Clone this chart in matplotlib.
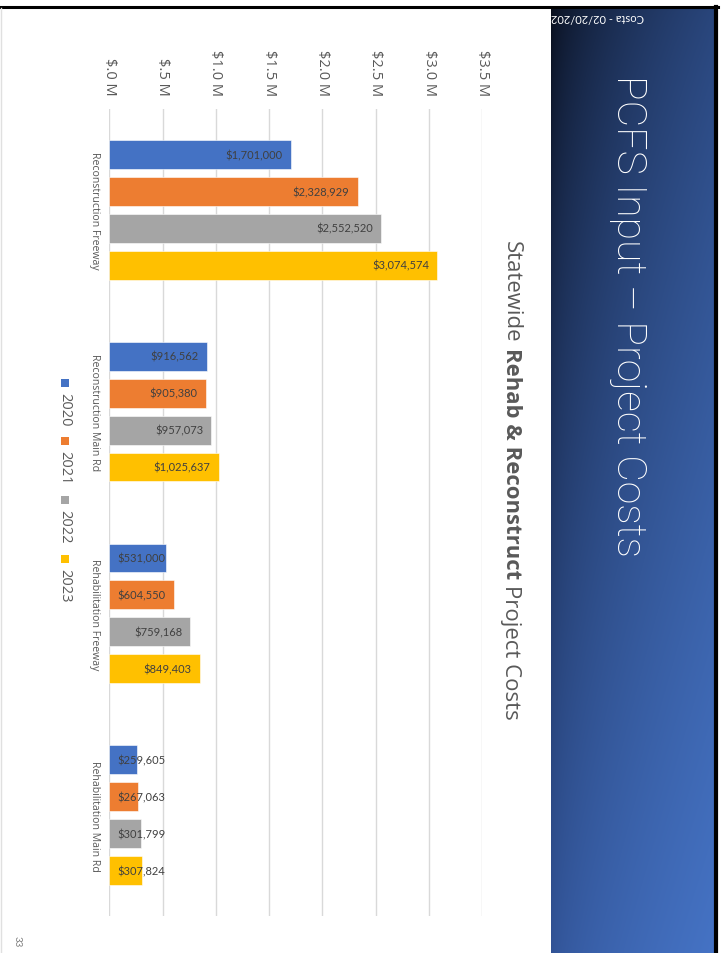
import numpy as np
import matplotlib.pyplot as plt
from matplotlib.patches import Rectangle
from matplotlib.lines import Line2D

years = ['2020', '2021', '2022', '2023']
categories = ['Reconstruction Freeway', 'Reconstruction Main Rd',
              'Rehabilitation Freeway', 'Rehabilitation Main Rd']
costs_2020 = [1701000, 916562, 531000, 259605]
costs_2021 = [2328929, 905380, 604550, 267063]
costs_2022 = [2552520, 957073, 759168, 301799]
costs_2023 = [3074574, 1025637, 849403, 307824]
tick_values = [0, 500000, 1000000, 1500000, 2000000, 2500000, 3000000, 3500000]
tick_labels = ['$.0 M', '$.5 M', '$1.0 M', '$1.5 M', '$2.0 M', '$2.5 M', '$3.0 M', '$3.5 M']
colors = ['#4472C4', '#ED7D31', '#A5A5A5', '#FFC000']

W, H = 724, 954
fig = plt.figure(figsize=(W / 100, H / 100), dpi=100)


def fx(x):
    return x / W


def fy(y):
    return 1 - y / H


# blue title panel with gradient (slide is rotated)
u = np.linspace(0, 1, 200)[None, :]
v = np.linspace(0, 1, 300)[:, None]
TL = np.array([0.03, 0.05, 0.10])
TR = np.array([0.16, 0.27, 0.48])
BL = np.array([0.19, 0.32, 0.58])
BR = np.array([0.27, 0.45, 0.77])
uu = u ** 0.6
vv = v ** 0.8
grad = ((1 - uu) * (1 - vv))[..., None] * TL + (uu * (1 - vv))[..., None] * TR \
    + ((1 - uu) * vv)[..., None] * BL + (uu * vv)[..., None] * BR
pax = fig.add_axes([fx(551), 0, fx(714) - fx(551), fy(9)])
pax.imshow(grad, aspect='auto', extent=[0, 1, 0, 1], origin='upper')
pax.axis('off')

# borders
fig.add_artist(Line2D([0, fx(718)], [fy(8), fy(8)], color='black', lw=2.2))
fig.add_artist(Line2D([fx(716), fx(716)], [fy(8), 0], color='black', lw=3))
fig.add_artist(Line2D([fx(1), fx(1)], [fy(9), 0], color='#e0e0e0', lw=1))

# slide title and footer (footer runs off the panel, white on white beyond it)
fig.text(fx(628), fy(75), 'PCFS Input – Project Costs', rotation=270, ha='center', va='top',
         color='white', fontsize=29.5, family='Roboto', fontweight='light')
fig.text(fx(644), fy(18), 'Costa - 02/20/2023', rotation=180, ha='right', va='center',
         color='white', fontsize=8, family='Lato')
fig.text(fx(17), fy(936), '33', rotation=270, ha='center', va='top', color='#7f7f7f',
         fontsize=7, family='Lato')

# chart
ax = fig.add_axes([fx(109.3), fy(917), fx(482.4) - fx(109.3), fy(110) - fy(917)])
series = [costs_2020, costs_2021, costs_2022, costs_2023]
pos = np.arange(len(categories))
pitch = 0.183
bw = 0.1436
for i, (vals, c) in enumerate(zip(series, colors)):
    ax.barh(pos + (i - 1.5) * pitch, vals, height=bw, color=c, edgecolor='white', lw=0.4)

ax.set_xlim(0, 3500000)
ax.set_ylim(3.5, -0.5)
ax.set_xticks(tick_values)
ax.set_xticklabels(tick_labels)
ax.xaxis.tick_top()
ax.tick_params(axis='x', length=0, pad=10, labelrotation=270, labelsize=10.5, labelcolor='#595959')
for t in ax.get_xticklabels():
    t.set_family('Open Sans')
ax.set_yticks(pos)
ax.set_yticklabels(categories)
ax.tick_params(axis='y', length=0, pad=7, labelrotation=270, labelsize=7.6, labelcolor='#595959')
for t in ax.get_yticklabels():
    t.set_family('Open Sans')
    t.set_va('center')
ax.grid(axis='x', color='#d9d9d9', lw=1)
ax.set_axisbelow(True)
for s in ax.spines.values():
    s.set_visible(False)

# data labels
labels = []
for i, vals in enumerate(series):
    for j, val in enumerate(vals):
        yy = pos[j] + (i - 1.5) * pitch
        t = ax.text(val, yy, f'${val:,}', ha='left', va='center',
                    fontsize=8, color='#404040', family='Lato')
        labels.append((t, val, yy))

# chart title pieces (regular / bold / regular), rotated
title_parts = [('Statewide', 'normal'), ('Rehab & Reconstruct', 'bold'), ('Project Costs', 'normal')]
tsize = 15.9
fig.canvas.draw()
r = fig.canvas.get_renderer()
probe1 = fig.text(0, 0, 'x x', fontsize=tsize, family='Open Sans')
probe2 = fig.text(0, 0, 'xx', fontsize=tsize, family='Open Sans')
space = probe1.get_window_extent(r).width - probe2.get_window_extent(r).width
probe1.remove()
probe2.remove()
cur = H - 241
for txt, wt in title_parts:
    t = fig.text(fx(511), cur / H, txt, rotation=270, ha='center', va='top',
                 color='#595959', fontsize=tsize, family='Open Sans', fontweight=wt)
    bb = t.get_window_extent(r)
    cur = bb.y0 - space

inv = ax.transData.inverted()
for t, val, yy in labels:
    w = t.get_window_extent(r).width
    end_px = ax.transData.transform((val, yy))[0]
    left_px = max(end_px - 8 - w, 117)
    t.set_x(inv.transform((left_px, 0))[0])

# legend
leg_y = [384, 442, 501, 560]
for name, c, yc in zip(years, colors, leg_y):
    fig.add_artist(Rectangle((fx(61), fy(yc + 4)), fx(8), 8 / H, color=c, lw=0))
    fig.text(fx(65), fy(yc + 9), name, rotation=270, ha='center', va='top',
             color='#595959', fontsize=10.5, family='Open Sans')

fig.savefig('out.png', dpi=100)
